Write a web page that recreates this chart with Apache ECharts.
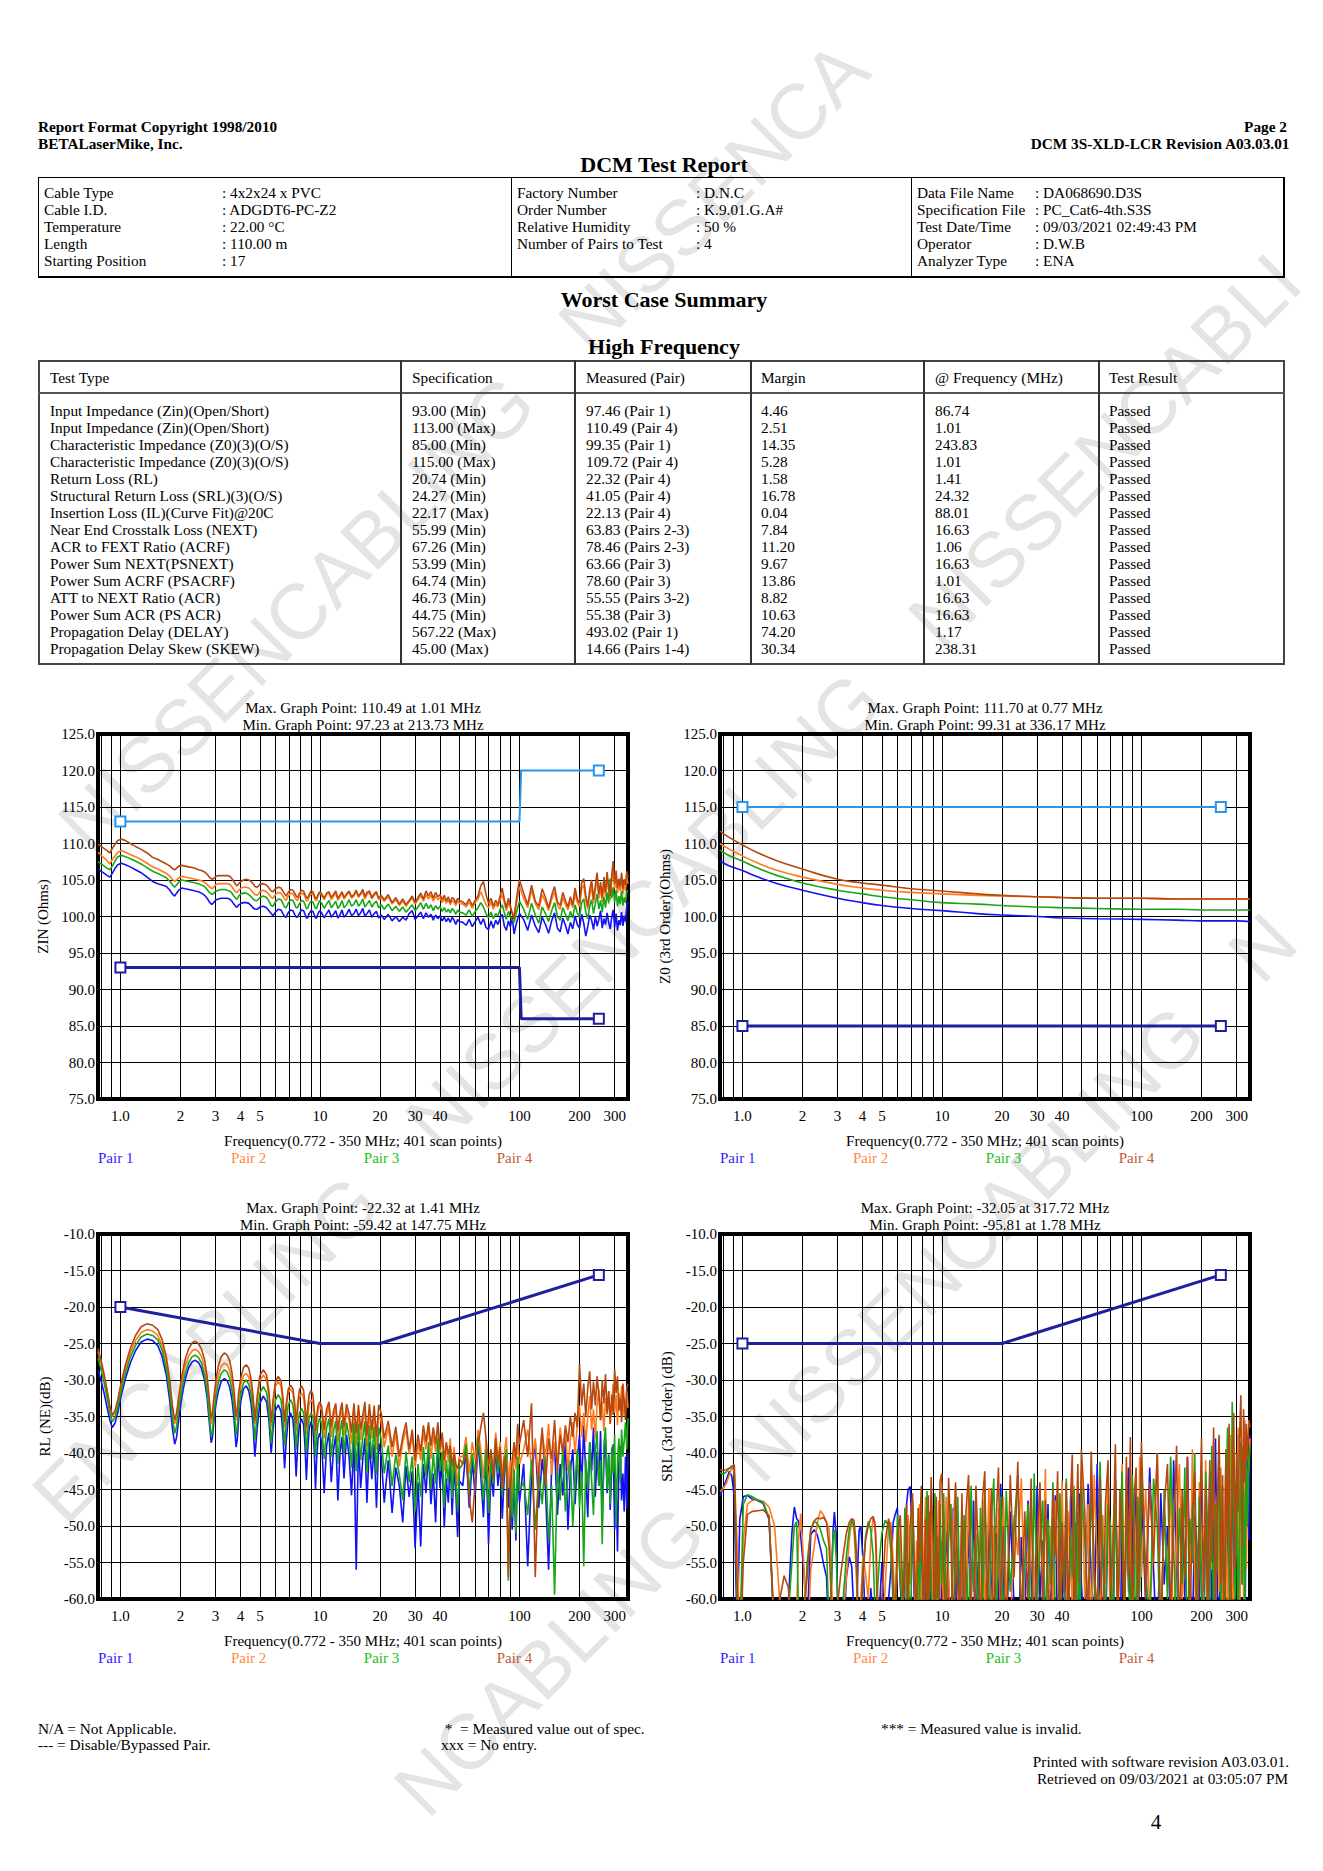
<!DOCTYPE html>
<html>
<head>
<meta charset="utf-8">
<title>DCM Test Report</title>
<script src="https://cdn.jsdelivr.net/npm/echarts@6.0.0/dist/echarts.min.js"></script>
<style>
html,body{margin:0;padding:0;background:#fff;}
body{width:1323px;height:1871px;position:relative;overflow:hidden;font-family:"Liberation Serif","Times New Roman",serif;color:#000;}
.chart{position:absolute;height:490px;z-index:1;}
.wm{position:absolute;z-index:0;font-family:"Liberation Sans",Arial,sans-serif;font-size:78px;line-height:78px;color:#e4e4e4;white-space:nowrap;transform-origin:0 100%;transform:rotate(-45deg);}
</style>
</head>
<body>
<div id="c1" class="chart" style="left:0px;top:690px;width:640px"></div>
<div id="c2" class="chart" style="left:631px;top:690px;width:692px"></div>
<div id="c3" class="chart" style="left:0px;top:1190px;width:640px"></div>
<div id="c4" class="chart" style="left:631px;top:1190px;width:692px"></div>
<script>
// ---------------- shared frequency grid (MHz) ----------------
const FREQ = [
 0.772, 0.80, 0.83, 0.86, 0.885, 0.91,
 0.94, 0.97, 1.01, 1.06, 1.12, 1.19, 1.27, 1.36, 1.45, 1.54, 1.62, 1.70, 1.77, 1.82, 1.87,
 1.91, 1.96, 2.03, 2.11, 2.2, 2.29, 2.37, 2.46, 2.55, 2.64, 2.72, 2.79, 2.85,
 2.89, 2.95, 3.02, 3.1, 3.2, 3.32, 3.43, 3.53, 3.62, 3.7, 3.76, 3.8,
 3.85, 3.92, 4.02, 4.14, 4.27, 4.4, 4.52, 4.62, 4.68, 4.72,
 4.85, 5.0, 5.2, 5.4, 5.55, 5.7,
 5.82, 5.98, 6.18, 6.38, 6.52, 6.65,
 6.77, 6.93, 7.12, 7.32, 7.47, 7.6,
 7.72, 7.88, 8.08, 8.28, 8.42, 8.55,
 8.67, 8.83, 9.02, 9.22, 9.37, 9.5,
 9.62, 9.78, 9.98,
 10.2, 10.5, 10.8, 11.1, 11.4, 11.7, 12.0, 12.3, 12.6, 12.9, 13.2, 13.6, 14.0, 14.4, 14.8, 15.2, 15.6, 16.0, 16.4, 16.8, 17.2, 17.7, 18.2, 18.7, 19.2, 19.7,
 20.3, 21, 22, 23, 24, 25, 26, 27, 28, 29, 30, 31, 32, 33, 34, 35, 36, 37, 38, 39, 40, 41, 42, 43, 44, 45, 46, 47, 48, 49, 50,
 52, 54, 56, 58, 60, 62, 64, 66, 68, 70, 72, 74, 76, 78, 80, 82, 84, 86, 88, 90, 92, 94, 96, 98, 100,
 105, 110, 115, 120, 125, 130, 135, 140, 145, 150, 155, 160, 165, 170, 175, 180, 185, 190, 195, 200, 205, 210, 215, 220, 225,
 230, 235, 240, 245, 250, 255, 260, 265, 270, 275, 280, 285, 290, 295, 300, 305, 310, 315, 320, 325, 330, 335, 340, 345, 350
];

// ---------------- ZIN (Ohms) ----------------
const ZIN_P1 = [
 106.5, 106.2, 105.9, 105.6, 105.4, 105.9,
 106.6, 107.1, 107.3, 107.1, 106.8, 106.4, 106.0, 105.4, 104.8, 104.5, 104.3, 104.1, 103.6, 103.1, 102.8,
 103.2, 103.6, 103.9, 103.8, 103.7, 103.6, 103.5, 103.4, 103.2, 102.9, 102.5, 102.0, 101.7,
 101.7, 102.0, 102.3, 102.4, 102.5, 102.5, 102.5, 102.4, 102.1, 101.7, 101.5, 101.3,
 101.3, 101.6, 101.8, 101.9, 101.9, 101.8, 101.5, 101.2, 101.1, 101.0,
 101.0, 101.3, 101.4, 101.2, 100.8, 100.4,
 100.1, 100.6, 101.0, 100.9, 100.4, 100.0,
 99.9, 100.5, 100.9, 100.8, 100.3, 99.9,
 99.9, 100.4, 100.9, 100.8, 100.3, 99.8,
 99.8, 100.4, 100.8, 100.7, 100.2, 99.8,
 99.8, 100.4, 100.8,
 100.5, 99.8, 100.4, 100.9, 99.9, 100.3, 100.8, 99.8, 100.2, 100.9, 99.9, 100.3, 101.0, 100.1, 100.4, 101.0, 100.1, 100.5, 101.1, 100.0, 100.4, 100.9, 99.9, 100.4, 100.7, 99.8,
 100.2, 99.6, 100.3, 99.4, 100.0, 99.3, 99.9, 99.5, 100.4, 100.8, 99.6, 100.1, 100.6, 99.7, 100.5, 99.9, 100.3, 99.5, 100.2, 99.7, 100.1, 99.4, 99.9, 99.3, 99.8, 99.2, 99.9, 99.5, 98.9, 99.6, 99.3,
 99.2, 98.8, 99.6, 98.6, 99.3, 99.9, 98.9, 99.7, 98.5, 98.2, 99.4, 98.4, 99.5, 98.9, 99.8, 100.3, 98.7, 98.1, 99.4, 98.6, 99.9, 97.6, 98.8, 99.7, 100.4,
 99.6, 98.1, 100.2, 98.7, 97.8, 99.9, 98.9, 97.7, 99.4, 100.5, 98.4, 97.9, 99.8, 98.8, 97.6, 99.2, 98.3, 100.1, 98.9, 98.4, 100.3, 99.1, 97.3, 98.6, 100.2,
 99.5, 98.2, 100.0, 98.7, 99.6, 100.8, 98.4, 99.7, 98.9, 100.5, 99.2, 98.3, 99.9, 100.9, 98.5, 100.4, 98.1, 99.5, 98.8, 100.6, 98.7, 100.1, 99.3, 101.4, 102.0
];
const ZIN_P2 = [
 108.8, 108.4, 108.0, 107.6, 107.2, 107.8,
 108.3, 108.8, 109.0, 108.8, 108.5, 108.2, 107.8, 107.3, 106.8, 106.5, 106.2, 105.9, 105.5, 105.1, 104.8,
 105.0, 105.3, 105.5, 105.4, 105.3, 105.2, 105.1, 105.0, 104.9, 104.7, 104.4, 104.1, 103.9,
 103.8, 104.1, 104.4, 104.5, 104.5, 104.5, 104.5, 104.4, 104.1, 103.7, 103.5, 103.3,
 103.3, 103.6, 103.9, 104.0, 104.0, 103.9, 103.6, 103.3, 103.1, 103.0,
 102.9, 103.4, 103.6, 103.4, 103.0, 102.6,
 102.5, 103.0, 103.3, 103.2, 102.8, 102.4,
 102.2, 102.8, 103.2, 103.1, 102.7, 102.3,
 102.2, 102.7, 103.2, 103.1, 102.7, 102.2,
 102.1, 102.7, 103.1, 103.1, 102.6, 102.2,
 102.2, 102.8, 103.2,
 102.9, 102.3, 103.0, 103.2, 102.3, 102.8, 103.2, 102.2, 102.7, 103.3, 102.4, 102.9, 103.3, 102.5, 102.8, 103.4, 102.6, 103.0, 103.4, 102.4, 103.0, 103.3, 102.4, 102.9, 103.2, 102.3,
 102.6, 102.1, 102.7, 101.7, 102.3, 101.5, 102.1, 101.4, 102.0, 102.5, 101.7, 102.3, 102.9, 102.1, 103.0, 102.4, 102.9, 102.1, 102.8, 102.3, 102.6, 101.9, 102.5, 101.8, 102.3, 101.6, 102.2, 102.0, 101.5, 102.1, 101.8,
 101.7, 101.3, 102.0, 101.1, 101.9, 102.4, 103.4, 102.5, 101.6, 101.2, 102.0, 101.0, 101.7, 101.3, 102.3, 103.0, 101.8, 100.8, 101.9, 101.2, 100.6, 100.2, 101.4, 102.7, 104.1,
 102.5, 101.2, 103.6, 101.8, 100.9, 103.0, 102.0, 100.8, 102.3, 103.4, 101.5, 101.0, 102.6, 101.7, 100.9, 102.1, 101.2, 103.1, 101.9, 101.3, 103.8, 104.3, 102.2, 101.0, 102.9,
 104.1, 101.8, 103.5, 105.2, 102.5, 103.9, 102.0, 104.6, 102.7, 105.4, 103.3, 102.2, 104.8, 106.2, 103.8, 105.5, 103.2, 104.5, 103.5, 105.3, 103.1, 104.4, 103.6, 105.4, 104.5
];
const ZIN_P3 = [
 107.5, 107.2, 106.9, 106.6, 106.4, 106.9,
 107.6, 108.2, 108.4, 108.2, 107.9, 107.6, 107.2, 106.7, 106.2, 105.9, 105.6, 105.3, 104.8, 104.4, 104.0,
 104.3, 104.7, 105.0, 104.9, 104.8, 104.7, 104.6, 104.5, 104.3, 104.1, 103.7, 103.3, 103.1,
 103.0, 103.3, 103.5, 103.6, 103.7, 103.7, 103.6, 103.5, 103.2, 102.8, 102.6, 102.4,
 102.4, 102.8, 103.1, 103.2, 103.2, 103.0, 102.7, 102.4, 102.3, 102.2,
 102.2, 102.6, 102.8, 102.6, 102.1, 101.5,
 101.4, 102.0, 102.4, 102.3, 101.8, 101.3,
 101.2, 101.8, 102.3, 102.2, 101.7, 101.2,
 101.2, 101.7, 102.2, 102.1, 101.6, 101.1,
 101.1, 101.7, 102.1, 102.0, 101.5, 101.1,
 101.1, 101.7, 102.2,
 101.8, 101.1, 101.7, 102.2, 101.2, 101.6, 102.1, 101.1, 101.5, 102.2, 101.2, 101.6, 102.3, 101.4, 101.7, 102.3, 101.4, 101.8, 102.4, 101.3, 101.7, 102.2, 101.3, 101.8, 102.1, 101.2,
 101.6, 101.0, 101.7, 100.8, 101.4, 100.7, 101.3, 100.6, 101.1, 101.6, 100.8, 101.3, 101.9, 101.0, 101.8, 101.1, 101.6, 100.8, 101.5, 101.0, 101.4, 100.7, 101.2, 100.6, 101.0, 100.5, 101.1, 100.8, 100.3, 100.9, 100.6,
 100.5, 100.2, 100.9, 100.0, 100.7, 101.2, 101.9, 101.3, 100.4, 99.8, 100.6, 99.7, 100.4, 100.1, 101.0, 101.6, 100.5, 99.6, 100.7, 100.0, 99.5, 99.2, 100.3, 101.2, 102.1,
 101.0, 99.6, 101.8, 100.2, 99.1, 101.3, 100.4, 99.3, 100.8, 101.9, 100.0, 99.5, 101.2, 100.3, 99.4, 100.7, 99.8, 101.6, 100.5, 99.9, 101.9, 102.4, 100.6, 99.7, 101.4,
 102.3, 100.4, 101.7, 103.1, 101.0, 102.2, 100.6, 102.7, 101.2, 103.3, 101.8, 105.2, 102.5, 104.0, 101.9, 103.6, 101.4, 102.8, 101.7, 103.5, 101.5, 102.6, 101.9, 103.4, 103.6
];
const ZIN_P4 = [
 109.9, 109.6, 109.3, 109.0, 108.7, 109.3,
 109.9, 110.4, 110.6, 110.4, 110.0, 109.6, 109.2, 108.7, 108.1, 107.8, 107.5, 107.2, 106.9, 106.6, 106.4,
 106.6, 106.9, 107.0, 106.9, 106.8, 106.7, 106.6, 106.4, 106.3, 106.1, 105.8, 105.4, 105.2,
 105.1, 105.3, 105.5, 105.6, 105.6, 105.6, 105.6, 105.5, 105.2, 104.8, 104.5, 104.3,
 104.2, 104.5, 104.8, 105.0, 105.1, 105.0, 104.8, 104.5, 104.3, 104.1,
 104.0, 104.4, 104.5, 104.3, 103.9, 103.5,
 103.4, 103.8, 104.0, 103.9, 103.5, 103.1,
 102.8, 103.3, 103.7, 103.6, 103.2, 102.8,
 102.6, 103.1, 103.6, 103.5, 103.0, 102.6,
 102.5, 103.0, 103.5, 103.4, 102.9, 102.5,
 102.5, 103.0, 103.4,
 103.1, 102.5, 103.2, 103.4, 102.6, 103.0, 103.5, 102.5, 102.9, 103.4, 102.6, 103.1, 103.5, 102.7, 103.0, 103.6, 102.8, 103.2, 103.7, 102.7, 103.3, 103.5, 102.6, 103.1, 103.4, 102.5,
 102.9, 102.3, 103.0, 101.9, 102.6, 101.7, 102.4, 101.6, 102.2, 102.8, 101.9, 102.6, 103.2, 102.4, 103.5, 102.8, 103.4, 102.5, 103.3, 102.7, 103.0, 102.3, 102.9, 102.1, 102.7, 101.9, 102.6, 102.4, 101.8, 102.5, 102.2,
 102.0, 101.6, 102.4, 101.5, 102.2, 102.8, 104.2, 104.8, 103.0, 101.8, 102.5, 101.4, 102.2, 101.6, 102.8, 103.9, 102.3, 101.2, 102.5, 101.5, 100.4, 99.6, 101.8, 103.6, 105.0,
 103.2, 101.6, 104.3, 102.1, 101.4, 103.8, 102.6, 101.2, 102.9, 104.1, 102.0, 101.5, 103.3, 102.2, 101.3, 102.7, 101.6, 103.9, 102.4, 101.8, 104.6, 105.2, 102.9, 101.4, 103.6,
 105.0, 102.3, 104.2, 106.0, 103.1, 104.7, 102.6, 105.4, 103.3, 106.1, 104.0, 102.8, 105.6, 107.6, 104.5, 106.3, 103.9, 105.2, 104.1, 106.0, 103.8, 105.1, 104.3, 106.2, 105.3
];

// ---------------- Z0 3rd order (Ohms) ----------------
const Z0_FREQ = [0.772, 0.85, 1.0, 1.2, 1.5, 2, 3, 4, 5, 7, 10, 15, 20, 30, 40, 60, 100, 150, 200, 300, 350];
const Z0_P1 = [107.6, 107.0, 106.3, 105.4, 104.5, 103.6, 102.5, 101.9, 101.5, 101.1, 100.8, 100.4, 100.2, 100.0, 99.8, 99.7, 99.6, 99.5, 99.4, 99.4, 99.3];
const Z0_P2 = [110.0, 109.3, 108.3, 107.3, 106.3, 105.4, 104.4, 103.9, 103.6, 103.3, 103.1, 102.9, 102.8, 102.7, 102.6, 102.5, 102.5, 102.4, 102.4, 102.4, 102.4];
const Z0_P3 = [109.1, 108.4, 107.6, 106.6, 105.6, 104.6, 103.6, 103.1, 102.7, 102.3, 101.9, 101.7, 101.5, 101.3, 101.2, 101.1, 101.0, 101.0, 100.9, 100.9, 100.9];
const Z0_P4 = [111.7, 110.9, 109.8, 108.7, 107.6, 106.5, 105.1, 104.6, 104.3, 103.8, 103.5, 103.1, 102.9, 102.7, 102.6, 102.5, 102.5, 102.4, 102.4, 102.4, 102.4];

// ---------------- RL (NE) (dB) ----------------
const RL_P1 = [
 -28.6, -30.1, -31.9, -33.9, -35.5, -36.5,
 -35.9, -34.4, -32.1, -29.8, -27.7, -26.0, -24.8, -24.4, -24.6, -25.3, -26.8, -29.4, -33.0, -36.5, -38.8,
 -37.9, -35.4, -32.4, -29.9, -28.3, -27.5, -27.3, -27.6, -28.4, -30.0, -32.4, -35.8, -38.6,
 -37.9, -35.3, -33.1, -31.5, -30.2, -29.8, -30.1, -31.0, -32.6, -35.0, -37.5, -39.2,
 -38.2, -35.2, -32.8, -31.2, -30.8, -31.5, -33.3, -36.1, -38.8, -40.5,
 -36.5, -33.2, -32.2, -33.0, -35.5, -40.0,
 -36.8, -34.2, -33.4, -34.3, -37.3, -42.1,
 -38.5, -35.4, -34.5, -35.4, -38.4, -43.2,
 -39.4, -36.3, -35.3, -36.1, -39.1, -43.7,
 -39.9, -36.7, -35.7, -36.6, -39.9, -45.0,
 -41.0, -38.0, -37.3,
 -38.5, -45.5, -39.0, -37.2, -44.0, -39.5, -37.6, -46.5, -40.0, -37.8, -43.5, -37.5, -40.5, -45.8, -38.2, -56.0, -38.4, -44.8, -40.8, -38.0, -46.8, -38.5, -43.6, -38.8, -47.5, -38.6,
 -40.5, -46.8, -41.0, -48.2, -42.0, -44.5, -49.5, -41.8, -46.0, -42.5, -53.0, -44.0, -52.8, -41.5, -45.5, -40.0, -47.0, -42.8, -49.5, -39.5, -44.8, -41.2, -50.2, -43.5, -46.8, -40.8, -48.5, -42.0, -45.5, -51.5, -43.8,
 -44.5, -39.5, -47.5, -41.0, -45.8, -38.5, -43.0, -48.8, -40.2, -52.5, -42.5, -46.0, -39.0, -44.5, -41.5, -49.0, -43.0, -40.5, -47.5, -42.0, -50.5, -44.0, -52.0, -41.5, -46.8,
 -41.5, -55.5, -43.0, -38.5, -47.5, -40.8, -45.0, -56.0, -42.0, -39.0, -48.5, -41.5, -45.8, -38.0, -50.5, -42.5, -39.5, -47.0, -41.0, -37.5, -44.8, -36.2, -43.0, -48.8, -38.5,
 -42.5, -36.5, -46.0, -39.8, -44.5, -37.0, -49.5, -41.0, -38.0, -45.5, -40.2, -47.8, -42.0, -38.8, -50.5, -43.5, -53.5, -41.5, -39.0, -46.5, -42.8, -48.0, -40.5, -47.5, -40.0
];
const RL_P2 = [
 -26.1, -27.7, -29.7, -31.9, -33.8, -35.0,
 -34.4, -33.0, -30.7, -28.5, -26.3, -24.6, -23.5, -23.1, -23.3, -23.9, -25.3, -27.6, -30.8, -33.9, -36.0,
 -35.2, -33.0, -30.3, -28.1, -26.7, -26.0, -25.8, -26.1, -26.8, -28.2, -30.4, -33.5, -36.0,
 -35.3, -32.9, -30.9, -29.3, -28.1, -27.7, -27.9, -28.7, -30.0, -32.0, -34.1, -35.5,
 -34.7, -32.4, -30.6, -29.4, -29.1, -29.6, -30.9, -32.9, -34.8, -36.0,
 -32.8, -30.1, -29.3, -30.0, -32.3, -36.4,
 -33.4, -30.9, -30.2, -30.8, -33.0, -36.5,
 -34.0, -31.8, -31.2, -31.8, -33.8, -37.0,
 -34.5, -32.4, -31.8, -32.4, -34.4, -37.5,
 -35.2, -33.3, -32.7, -33.2, -35.1, -38.0,
 -35.8, -34.2, -33.5,
 -34.2, -38.0, -34.8, -33.6, -37.8, -35.0, -33.8, -38.5, -35.3, -33.9, -37.6, -34.0, -35.6, -38.8, -34.0, -39.0, -34.2, -38.2, -35.8, -34.0, -39.2, -34.4, -38.0, -34.5, -39.5, -34.6,
 -35.8, -39.2, -36.5, -40.5, -37.2, -41.8, -38.5, -36.8, -40.2, -37.5, -42.0, -38.6, -41.0, -37.2, -39.5, -36.2, -40.8, -37.5, -39.8, -36.5, -40.0, -37.8, -42.5, -38.8, -41.2, -38.0, -43.5, -39.2, -41.8, -44.5, -40.5,
 -40.5, -37.8, -42.8, -38.5, -41.0, -36.8, -39.5, -43.5, -38.2, -45.0, -39.8, -42.0, -37.2, -40.8, -38.5, -43.2, -40.0, -37.8, -44.8, -41.0, -46.0, -39.5, -42.2, -38.0, -41.5,
 -39.5, -36.8, -42.0, -38.0, -44.5, -37.2, -40.5, -36.0, -43.0, -38.5, -41.2, -36.5, -39.8, -37.0, -42.5, -38.0, -35.8, -40.0, -36.2, -33.5, -37.8, -34.5, -38.5, -35.0, -32.2,
 -36.8, -34.0, -38.0, -33.5, -31.2, -35.5, -33.0, -37.0, -32.5, -34.8, -31.5, -36.0, -33.2, -30.5, -34.5, -32.0, -36.2, -31.8, -33.5, -30.8, -35.0, -32.5, -34.2, -31.5, -33.8
];
const RL_P3 = [
 -27.0, -28.6, -30.5, -32.6, -34.5, -35.7,
 -35.1, -33.7, -31.4, -29.1, -26.9, -25.3, -24.1, -23.7, -23.9, -24.5, -26.0, -28.5, -31.9, -35.1, -37.3,
 -36.4, -34.1, -31.3, -29.1, -27.6, -26.8, -26.6, -26.9, -27.7, -29.3, -31.6, -35.0, -37.8,
 -37.1, -34.4, -32.1, -30.3, -29.1, -28.6, -28.9, -29.8, -31.3, -33.5, -35.9, -37.5,
 -36.6, -33.9, -31.8, -30.4, -30.0, -30.6, -32.1, -34.5, -36.7, -38.2,
 -34.7, -31.8, -30.9, -31.7, -34.2, -38.7,
 -35.5, -32.8, -32.0, -32.7, -35.2, -39.0,
 -36.0, -33.5, -32.7, -33.4, -35.8, -39.5,
 -36.8, -34.6, -33.9, -34.5, -36.7, -40.0,
 -37.4, -35.2, -34.5, -35.1, -37.2, -40.5,
 -38.0, -36.0, -35.2,
 -36.0, -40.8, -36.6, -35.3, -40.5, -37.0, -35.6, -41.5, -37.2, -35.5, -40.2, -35.8, -37.8, -42.0, -35.9, -42.5, -36.0, -41.0, -37.8, -35.7, -42.6, -36.2, -40.8, -36.4, -43.0, -36.5,
 -38.2, -42.8, -39.0, -44.5, -40.2, -43.0, -46.5, -39.8, -44.0, -40.5, -48.0, -41.5, -46.0, -39.2, -43.2, -38.5, -45.0, -40.0, -44.2, -38.0, -42.5, -39.8, -47.5, -41.0, -44.0, -39.5, -46.2, -40.8, -43.5, -48.0, -42.2,
 -41.5, -38.8, -45.5, -40.0, -43.0, -37.8, -41.2, -46.5, -39.5, -48.2, -41.0, -44.2, -38.5, -42.8, -40.2, -45.8, -41.8, -39.5, -57.5, -43.5, -48.8, -42.2, -51.0, -40.5, -45.2,
 -44.0, -48.5, -41.0, -50.5, -43.0, -47.0, -40.5, -52.0, -44.5, -59.4, -42.0, -46.5, -39.0, -48.0, -43.2, -41.0, -50.0, -44.0, -39.5, -47.5, -42.5, -55.5, -40.8, -45.0, -38.5,
 -43.8, -48.5, -40.0, -37.0, -44.5, -41.0, -52.5, -38.8, -36.5, -45.0, -40.5, -47.0, -39.2, -42.8, -37.5, -50.0, -41.2, -38.0, -44.0, -36.8, -40.5, -38.2, -35.8, -39.5, -35.2
];
const RL_P4 = [
 -25.7, -27.3, -29.3, -31.6, -33.6, -34.8,
 -34.2, -32.7, -30.3, -27.9, -25.7, -23.9, -22.7, -22.3, -22.5, -23.1, -24.5, -26.9, -30.2, -33.4, -35.5,
 -34.6, -32.3, -29.5, -27.2, -25.7, -24.9, -24.7, -25.0, -25.8, -27.2, -29.5, -32.7, -35.3,
 -34.6, -32.0, -29.7, -28.0, -26.8, -26.3, -26.6, -27.4, -28.9, -31.1, -33.4, -35.0,
 -34.1, -31.6, -29.6, -28.3, -27.9, -28.4, -29.9, -32.1, -34.1, -35.5,
 -32.2, -29.4, -28.6, -29.3, -31.6, -35.8,
 -32.8, -30.3, -29.5, -30.1, -32.3, -35.8,
 -33.4, -31.3, -30.7, -31.2, -33.1, -36.0,
 -33.5, -31.4, -30.8, -31.4, -33.4, -36.5,
 -34.0, -32.0, -31.4, -32.0, -34.0, -37.0,
 -35.0, -33.6, -33.0,
 -33.6, -36.8, -34.0, -33.0, -36.5, -34.2, -33.2, -37.0, -34.4, -33.1, -36.4, -33.3, -34.6, -37.2, -33.2, -37.3, -33.4, -36.8, -34.8, -33.0, -37.6, -33.3, -36.9, -33.5, -37.8, -33.4,
 -34.6, -38.0, -35.6, -39.2, -36.4, -40.5, -37.8, -35.8, -39.5, -36.8, -41.0, -37.5, -39.8, -36.2, -38.5, -35.8, -39.0, -36.5, -38.8, -35.8, -39.5, -37.2, -41.0, -38.5, -40.2, -39.0, -41.8, -40.0, -41.5, -42.2, -40.8,
 -41.5, -40.2, -46.0, -49.5, -44.0, -39.0, -36.5, -34.5, -38.0, -41.8, -39.5, -43.5, -38.0, -41.5, -39.2, -44.8, -40.5, -42.0, -57.0, -45.0, -41.0, -38.5, -40.8, -36.0, -38.8,
 -35.5, -40.5, -33.2, -57.0, -42.0, -36.5, -44.5, -38.0, -40.8, -35.5, -42.5, -37.5, -40.0, -36.2, -38.5, -35.0, -37.8, -34.5, -36.5, -27.8, -33.5, -30.5, -35.0, -31.0, -28.8,
 -34.0, -30.2, -33.5, -29.5, -32.0, -35.5, -30.0, -33.2, -29.2, -34.5, -31.5, -36.0, -32.0, -34.8, -28.5, -31.8, -29.5, -34.2, -32.5, -35.8, -30.5, -33.0, -35.5, -31.0, -30.5
];

// ---------------- SRL 3rd order (dB) ----------------
const SRL_P1 = [
 -45.9, -44.8, -43.7, -42.5, -43.2, -46.0,
 -65.0, -49.1, -46.0, -45.8, -46.3, -46.5, -46.9, -49.1, -66.0, -59.3, -70.0, -60.5, -51.0, -47.4, -49.0,
 -49.3, -51.5, -56.0, -64.0, -51.2, -50.5, -51.2, -53.0, -55.2, -57.0, -66.0, -58.0, -50.5,
 -48.1, -51.0, -64.0, -70.0, -66.0, -57.0, -54.2, -55.5, -62.0, -68.0, -60.0, -54.0,
 -50.5, -50.0, -54.6, -64.0, -68.0, -58.5, -63.0, -66.0, -70.0, -64.0,
 -62.0, -55.0, -66.0, -60.0, -56.0, -49.5,
 -48.5, -47.5, -58.0, -64.0, -55.0, -47.0,
 -45.0, -44.6, -52.0, -63.0, -58.0, -66.0,
 -52.0, -51.5, -64.0, -55.0, -68.0, -57.5,
 -65.0, -56.0, -62.0, -50.5, -66.0, -58.0,
 -64.0, -53.5, -61.0,
 -66.0, -49.5, -58.0, -68.0, -47.5, -62.0, -53.0, -70.0, -48.5, -57.0, -65.0, -50.0, -61.0, -46.5, -64.0, -55.0, -72.0, -49.0, -60.0, -67.0, -47.8, -58.5, -65.0, -51.0, -63.0, -44.2,
 -58.0, -66.0, -48.0, -61.0, -70.0, -51.5, -64.0, -46.5, -57.0, -67.0, -44.5, -60.0, -52.0, -68.0, -47.0, -63.0, -55.0, -45.8, -66.0, -50.5, -59.0, -69.0, -46.0, -62.0, -54.0, -44.0, -65.0, -49.5, -71.0, -45.5, -58.0,
 -66.0, -44.2, -57.0, -63.0, -41.5, -60.0, -50.5, -68.0, -46.0, -55.0, -64.0, -43.5, -59.0, -70.0, -47.5, -61.0, -52.0, -42.0, -66.0, -49.0, -58.0, -45.0, -67.0, -53.0, -44.8,
 -61.0, -42.0, -56.0, -68.0, -45.5, -58.0, -50.0, -64.0, -41.0, -55.0, -70.0, -47.0, -60.0, -40.5, -57.0, -65.0, -48.5, -53.0, -62.0, -44.0, -68.0, -46.5, -58.5, -42.5, -63.0,
 -51.0, -38.0, -59.0, -66.0, -44.5, -55.0, -71.0, -40.0, -57.0, -49.0, -64.0, -38.5, -60.0, -46.0, -53.0, -37.5, -62.0, -43.0, -58.0, -39.5, -67.0, -45.0, -41.0, -52.0, -37.5
];
const SRL_P2 = [
 -45.3, -44.9, -44.2, -43.0, -42.0, -42.5,
 -52.0, -66.0, -52.0, -47.0, -46.5, -46.4, -46.6, -47.4, -50.0, -60.5, -70.0, -80.0, -95.8, -75.0, -62.0,
 -52.0, -48.3, -55.0, -68.0, -56.0, -52.8, -49.6, -47.9, -48.5, -49.5, -50.5, -56.0, -64.0,
 -68.0, -70.0, -66.0, -64.0, -62.0, -57.0, -52.0, -49.2, -50.5, -55.0, -60.0, -63.0,
 -66.0, -60.0, -54.0, -56.5, -60.0, -52.0, -48.8, -49.5, -52.0, -57.0,
 -64.0, -68.0, -58.0, -50.0, -49.5, -55.0,
 -62.0, -56.0, -50.5, -64.0, -66.0, -54.0,
 -48.5, -58.0, -46.5, -61.0, -52.0, -66.0,
 -47.0, -63.0, -55.0, -46.0, -68.0, -51.0,
 -59.0, -45.5, -66.0, -49.0, -57.0, -64.0,
 -46.5, -60.0, -52.0,
 -63.0, -46.0, -57.0, -66.0, -49.5, -44.5, -60.0, -68.0, -47.0, -55.0, -63.0, -45.8, -58.0, -70.0, -48.0, -52.0, -65.0, -46.5, -61.0, -56.0, -44.8, -67.0, -50.0, -59.0, -47.5, -64.0,
 -46.0, -58.0, -66.0, -48.5, -54.0, -43.5, -62.0, -69.0, -47.0, -56.0, -64.0, -45.0, -59.0, -42.2, -67.0, -50.0, -61.0, -46.5, -55.0, -70.0, -43.8, -58.0, -65.0, -48.0, -52.0, -62.0, -44.5, -68.0, -50.5, -57.0, -42.5,
 -60.0, -47.0, -66.0, -43.0, -55.0, -64.0, -48.5, -58.0, -42.0, -69.0, -51.0, -45.5, -62.0, -56.0, -41.5, -65.0, -49.0, -59.0, -44.0, -70.0, -47.5, -54.0, -63.0, -40.5, -57.0,
 -45.0, -62.0, -52.0, -40.0, -66.0, -48.0, -58.0, -43.5, -69.0, -50.5, -41.5, -60.0, -55.0, -46.0, -64.0, -39.5, -57.0, -67.0, -44.0, -52.5, -61.0, -41.0, -70.0, -48.5, -56.0,
 -38.5, -63.0, -46.0, -59.0, -42.0, -65.0, -53.0, -40.5, -68.0, -47.0, -37.5, -58.0, -62.0, -44.0, -54.0, -36.5, -66.0, -49.0, -39.0, -60.0, -35.5, -56.0, -45.0, -41.5, -38.0
];
const SRL_P3 = [
 -42.7, -42.9, -42.6, -42.1, -41.9, -41.8,
 -60.0, -66.0, -47.0, -45.7, -46.0, -46.4, -46.8, -48.8, -66.0, -72.0, -68.0, -62.0, -55.0, -50.0, -49.4,
 -62.0, -70.0, -64.0, -55.0, -50.5, -49.4, -49.6, -50.5, -52.0, -53.0, -64.0, -58.0, -51.0,
 -50.5, -54.0, -62.0, -68.0, -60.0, -54.0, -50.5, -49.2, -49.8, -53.0, -58.0, -64.0,
 -68.0, -62.0, -56.0, -51.5, -49.4, -50.5, -54.0, -62.0, -66.0, -60.0,
 -55.0, -51.0, -49.2, -50.0, -53.5, -61.0,
 -66.0, -48.5, -57.0, -63.0, -47.5, -60.0,
 -55.0, -68.0, -46.6, -58.0, -64.0, -49.0,
 -61.0, -46.0, -66.0, -52.0, -45.2, -63.0,
 -48.0, -57.0, -69.0, -45.5, -60.0, -51.5,
 -66.0, -47.0, -58.0,
 -45.5, -63.0, -52.0, -47.0, -67.0, -55.0, -46.0, -61.0, -70.0, -48.5, -56.0, -65.0, -44.5, -59.0, -51.0, -68.0, -47.5, -62.0, -45.0, -57.0, -66.0, -49.0, -43.5, -64.0, -53.0, -46.0,
 -66.0, -45.2, -59.0, -50.0, -43.0, -64.0, -55.0, -47.0, -69.0, -42.8, -61.0, -52.5, -46.5, -67.0, -49.0, -58.0, -44.0, -63.0, -70.0, -45.5, -54.0, -60.0, -43.5, -66.0, -50.0, -57.0, -45.0, -62.0, -48.0, -68.0, -44.5,
 -52.0, -62.0, -45.0, -58.0, -67.0, -41.2, -55.0, -63.0, -47.0, -50.0, -69.0, -44.0, -60.0, -53.5, -42.5, -66.0, -48.5, -57.0, -64.0, -43.0, -52.0, -70.0, -46.0, -59.0, -41.0,
 -56.0, -64.0, -43.5, -50.0, -68.0, -45.0, -60.0, -40.5, -53.0, -66.0, -47.5, -58.0, -42.0, -70.0, -49.0, -55.0, -40.0, -63.0, -46.0, -59.0, -67.0, -42.5, -51.0, -61.0, -39.0,
 -65.0, -47.0, -56.0, -38.0, -62.0, -44.5, -69.0, -50.0, -36.5, -57.0, -64.0, -33.0, -48.0, -60.0, -40.0, -66.0, -52.0, -38.5, -58.0, -45.0, -62.0, -37.0, -50.0, -42.0, -39.0
];
const SRL_P4 = [
 -42.3, -42.4, -42.3, -42.1, -41.8, -41.6,
 -58.0, -70.0, -55.0, -48.4, -48.0, -47.9, -47.8, -48.6, -65.0, -60.0, -56.8, -58.5, -66.0, -72.0, -68.0,
 -70.0, -66.0, -62.0, -57.0, -50.5, -49.3, -48.9, -49.0, -48.8, -49.5, -53.0, -60.0, -66.0,
 -70.0, -64.0, -60.0, -57.0, -54.0, -51.0, -49.5, -49.0, -49.2, -52.0, -58.0, -64.0,
 -68.0, -63.0, -57.0, -52.0, -50.0, -49.0, -48.7, -50.0, -54.0, -60.0,
 -66.0, -60.0, -52.0, -49.0, -51.0, -58.0,
 -64.0, -52.0, -48.5, -60.0, -56.0, -47.0,
 -62.0, -50.0, -45.5, -58.0, -66.0, -47.5,
 -55.0, -44.5, -63.0, -49.0, -68.0, -45.8,
 -60.0, -43.3, -52.0, -66.0, -46.0, -57.0,
 -64.0, -44.0, -42.8,
 -56.0, -65.0, -43.4, -52.0, -68.0, -44.0, -58.0, -62.0, -45.5, -70.0, -48.0, -43.0, -60.0, -66.0, -44.5, -53.0, -67.0, -46.0, -42.5, -63.0, -55.0, -44.8, -69.0, -49.0, -42.0, -61.0,
 -50.0, -66.0, -43.0, -57.0, -41.2, -64.0, -48.0, -60.0, -43.5, -70.0, -52.0, -44.0, -62.0, -46.5, -58.0, -68.0, -45.0, -54.0, -42.5, -65.0, -49.5, -59.0, -44.0, -67.0, -47.0, -40.2, -63.0, -52.0, -41.5, -58.0, -39.5,
 -48.0, -65.0, -39.8, -56.0, -62.0, -43.5, -70.0, -47.0, -41.0, -59.0, -53.0, -38.8, -66.0, -45.0, -51.0, -64.0, -40.5, -57.0, -37.8, -68.0, -46.0, -42.0, -61.0, -49.0, -38.5,
 -60.0, -44.0, -55.0, -40.0, -66.0, -47.5, -41.5, -62.0, -51.0, -39.0, -68.0, -45.0, -57.0, -40.5, -64.0, -48.0, -42.5, -70.0, -52.0, -38.0, -59.0, -44.5, -65.0, -41.0, -55.0,
 -36.5, -63.0, -47.0, -37.5, -58.0, -43.0, -67.0, -39.5, -52.0, -36.0, -61.0, -45.0, -34.5, -56.0, -40.0, -48.0, -38.0, -32.1, -53.0, -34.0, -44.0, -36.0, -41.0, -35.5, -36.5
];

// ---------------- specification limits ----------------
const ZIN_SPEC_MAX = [[1.0, 113], [100, 113], [102, 120], [250, 120]];
const ZIN_SPEC_MIN = [[1.0, 93], [100, 93], [102, 86], [250, 86]];
const Z0_SPEC_MAX = [[1.0, 115], [250, 115]];
const Z0_SPEC_MIN = [[1.0, 85], [250, 85]];
const RL_SPEC = [[1.0, -20], [10, -25], [20, -25], [250, -15.6]];
const SRL_SPEC = [[1.0, -25], [20, -25], [250, -15.6]];

// ---------------- axis ticks ----------------
const GRID_FREQ = [0.8, 0.9, 1, 2, 3, 4, 5, 6, 7, 8, 9, 10, 20, 30, 40, 50, 60, 70, 80, 90, 100, 200, 300];
const LABEL_FREQ = [1, 2, 3, 4, 5, 10, 20, 30, 40, 100, 200, 300];
const PAIR_NAMES = ['Pair 1', 'Pair 2', 'Pair 3', 'Pair 4'];

// ---------------- report texts ----------------
const INFO = [
 [['Cable Type', ': 4x2x24 x PVC'], ['Cable I.D.', ': ADGDT6-PC-Z2'], ['Temperature', ': 22.00 °C'], ['Length', ': 110.00 m'], ['Starting Position', ': 17']],
 [['Factory Number', ': D.N.C'], ['Order Number', ': K.9.01.G.A#'], ['Relative Humidity', ': 50 %'], ['Number of Pairs to Test', ': 4']],
 [['Data File Name', ': DA068690.D3S'], ['Specification File', ': PC_Cat6-4th.S3S'], ['Test Date/Time', ': 09/03/2021 02:49:43 PM'], ['Operator', ': D.W.B'], ['Analyzer Type', ': ENA']]
];
const SUMMARY_HEAD = ['Test Type', 'Specification', 'Measured (Pair)', 'Margin', '@ Frequency (MHz)', 'Test Result'];
const SUMMARY_ROWS = [
 ['Input Impedance (Zin)(Open/Short)', '93.00 (Min)', '97.46 (Pair 1)', '4.46', '86.74', 'Passed'],
 ['Input Impedance (Zin)(Open/Short)', '113.00 (Max)', '110.49 (Pair 4)', '2.51', '1.01', 'Passed'],
 ['Characteristic Impedance (Z0)(3)(O/S)', '85.00 (Min)', '99.35 (Pair 1)', '14.35', '243.83', 'Passed'],
 ['Characteristic Impedance (Z0)(3)(O/S)', '115.00 (Max)', '109.72 (Pair 4)', '5.28', '1.01', 'Passed'],
 ['Return Loss (RL)', '20.74 (Min)', '22.32 (Pair 4)', '1.58', '1.41', 'Passed'],
 ['Structural Return Loss (SRL)(3)(O/S)', '24.27 (Min)', '41.05 (Pair 4)', '16.78', '24.32', 'Passed'],
 ['Insertion Loss (IL)(Curve Fit)@20C', '22.17 (Max)', '22.13 (Pair 4)', '0.04', '88.01', 'Passed'],
 ['Near End Crosstalk Loss (NEXT)', '55.99 (Min)', '63.83 (Pairs 2-3)', '7.84', '16.63', 'Passed'],
 ['ACR to FEXT Ratio (ACRF)', '67.26 (Min)', '78.46 (Pairs 2-3)', '11.20', '1.06', 'Passed'],
 ['Power Sum NEXT(PSNEXT)', '53.99 (Min)', '63.66 (Pair 3)', '9.67', '16.63', 'Passed'],
 ['Power Sum ACRF (PSACRF)', '64.74 (Min)', '78.60 (Pair 3)', '13.86', '1.01', 'Passed'],
 ['ATT to NEXT Ratio (ACR)', '46.73 (Min)', '55.55 (Pairs 3-2)', '8.82', '16.63', 'Passed'],
 ['Power Sum ACR (PS ACR)', '44.75 (Min)', '55.38 (Pair 3)', '10.63', '16.63', 'Passed'],
 ['Propagation Delay (DELAY)', '567.22 (Max)', '493.02 (Pair 1)', '74.20', '1.17', 'Passed'],
 ['Propagation Delay Skew (SKEW)', '45.00 (Max)', '14.66 (Pairs 1-4)', '30.34', '238.31', 'Passed']
];

// ---------------- background watermark (diagonal rows, letter by letter, only letters fully on the page) ----------------
const WATERMARK = 'NISSENCABLING';
const WM_STARTS = [[-400, 1365], [100, 865], [600, 365], [-55, 1665], [447, 1162], [950, 660], [270, 1995], [770, 1495], [1270, 995]];
(function drawWatermark() {
  const px = 78, c45 = Math.SQRT1_2;
  const ctx = document.createElement('canvas').getContext('2d');
  ctx.font = px + 'px "Liberation Sans", Arial, sans-serif';
  WM_STARTS.forEach(([x0, y0]) => {
    let adv = 0;
    for (const ch of WATERMARK) {
      const w = ctx.measureText(ch).width;
      const ox = x0 + adv * c45, oy = y0 - adv * c45;
      adv += w;
      const fits = ox - 72 >= 0 && ox + w * c45 + 8 <= 1323 && oy - (w + 92) * c45 >= 2 && oy + 12 <= 1871;
      if (!fits) continue;
      const d = document.createElement('div');
      d.className = 'wm';
      d.style.left = ox + 'px';
      d.style.top = (oy - px) + 'px';
      d.textContent = ch;
      document.body.appendChild(d);
    }
  });
})();

// ---------------- page text layout ----------------
const FONT = '"Liberation Serif","Times New Roman",serif';
const FS = 15.3;
function box(css) { const d = document.createElement('div'); d.style.cssText = 'position:absolute;z-index:1;' + css; document.body.appendChild(d); return d; }
function txt(x, cy, s, extra) { const d = box(`left:${x}px;top:${cy - 8.5}px;font-size:${FS}px;line-height:17px;white-space:pre;${extra || ''}`); d.textContent = s; return d; }
function txtR(rx, cy, s, extra) { const d = box(`right:${1323 - rx}px;top:${cy - 8.5}px;font-size:${FS}px;line-height:17px;white-space:pre;text-align:right;${extra || ''}`); d.textContent = s; return d; }
function txtC(cx, cy, s, size, extra) { const d = box(`left:${cx - 300}px;width:600px;top:${cy - size * 0.6}px;font-size:${size}px;line-height:${size * 1.2}px;text-align:center;white-space:pre;${extra || ''}`); d.textContent = s; return d; }

txt(38, 126.6, 'Report Format Copyright 1998/2010', 'font-weight:bold');
txt(38, 143, 'BETALaserMike, Inc.', 'font-weight:bold');
txtR(1287, 126.6, 'Page 2', 'font-weight:bold');
txtR(1289.5, 143, 'DCM 3S-XLD-LCR Revision A03.03.01', 'font-weight:bold');
txtC(664, 165, 'DCM Test Report', 22, 'font-weight:bold');

box('left:38px;top:177px;width:1247px;height:101px;box-sizing:border-box;border-top:1px solid #000;border-left:1px solid #000;border-right:2px solid #000;border-bottom:2px solid #000;');
box('left:511px;top:177px;width:1px;height:101px;background:#000;');
box('left:911px;top:177px;width:1px;height:101px;background:#000;');
const INFO_X = [[44, 222], [517, 696], [917, 1035]];
INFO.forEach((col, c) => col.forEach((row, r) => {
  txt(INFO_X[c][0], 192 + 17 * r, row[0]);
  txt(INFO_X[c][1], 192 + 17 * r, row[1]);
}));

txtC(664, 300, 'Worst Case Summary', 22, 'font-weight:bold');
txtC(664, 347, 'High Frequency', 22, 'font-weight:bold');

box('left:38px;top:360px;width:1247px;height:305px;box-sizing:border-box;border:2px solid #444;');
box('left:38px;top:392px;width:1247px;height:2px;background:#555;');
[400, 574, 750, 923, 1098].forEach(x => box(`left:${x}px;top:360px;width:1.5px;height:305px;background:#333;`));
const COL_X = [50, 412, 586, 761, 935, 1109];
SUMMARY_HEAD.forEach((h, i) => txt(COL_X[i], 377, h));
SUMMARY_ROWS.forEach((row, r) => row.forEach((cell, i) => txt(COL_X[i], 410.7 + 17 * r, cell)));

txt(38, 1728, 'N/A = Not Applicable.');
txt(38, 1744.5, '--- = Disable/Bypassed Pair.');
txt(441, 1728, ' *  = Measured value out of spec.');
txt(441, 1744.5, 'xxx = No entry.');
txt(881, 1728, '*** = Measured value is invalid.');
txtR(1289, 1761, 'Printed with software revision A03.03.01.');
txtR(1288, 1778, 'Retrieved on 09/03/2021 at 03:05:07 PM');
txtC(1156, 1823, '4', 21);

// ---------------- charts ----------------
const PAIR_COLORS = ['#1212f2', '#ff7a1c', '#17a617', '#b5480f'];
const LEGEND_COLORS = ['#3322ff', '#ff8a48', '#22bf22', '#bf5a3c'];
const SPEC_HI = '#2a95ea', SPEC_LO = '#1f1f9e';

function pairSeries(freq, vals, i, smooth) {
  return {
    name: PAIR_NAMES[i], type: 'line', data: freq.map((f, k) => [f, vals[k]]),
    symbol: 'none', showSymbol: false, smooth: !!smooth, clip: true,
    lineStyle: { color: PAIR_COLORS[i], width: 1.6 }, itemStyle: { color: PAIR_COLORS[i] }, z: 3
  };
}
function specSeries(pts, color, width) {
  return {
    name: 'spec', type: 'line', showSymbol: true, showAllSymbol: true, symbol: 'emptyRect', symbolSize: 10,
    data: pts.map((p, k) => ({ value: p, symbol: (k === 0 || k === pts.length - 1) ? 'emptyRect' : 'none' })),
    lineStyle: { color, width }, itemStyle: { color, borderWidth: 2 }, z: 5, clip: true
  };
}
const TXT = { fontFamily: FONT, fontSize: 15, color: '#000' };

function makeChart(id, cfg) {
  const chart = echarts.init(document.getElementById(id), null, { renderer: 'svg' });
  const gl = cfg.gridLeft;
  chart.setOption({
    animation: false,
    backgroundColor: 'transparent',
    title: {
      text: cfg.title, left: gl + 265, top: 9, padding: 0, textAlign: 'center',
      textStyle: { fontFamily: FONT, fontSize: 15, fontWeight: 'normal', color: '#000', lineHeight: 17 }
    },
    legend: {
      left: gl - 5, top: 460, padding: 0, icon: 'none', itemWidth: 0, itemHeight: 15, itemGap: 92.5,
      selectedMode: false, textStyle: { fontFamily: FONT, fontSize: 15 },
      data: PAIR_NAMES.map((n, i) => ({ name: n, textStyle: { color: LEGEND_COLORS[i] } }))
    },
    grid: { left: gl, top: 44, width: 530, height: 365, show: true, borderColor: '#000', borderWidth: 4, backgroundColor: 'transparent', containLabel: false, outerBoundsMode: 'none' },
    xAxis: {
      type: 'log', logBase: 10, min: 0.772, max: 350,
      name: 'Frequency(0.772 - 350 MHz; 401 scan points)', nameLocation: 'middle', nameGap: 34, nameTextStyle: TXT,
      axisLine: { show: false }, axisTick: { show: false, customValues: GRID_FREQ },
      splitLine: { show: true, lineStyle: { color: '#000', width: 1 } },
      minorSplitLine: { show: false },
      axisLabel: { customValues: LABEL_FREQ, margin: 9, ...TXT, formatter: v => (Math.abs(v - 1) < 1e-9 ? '1.0' : String(Math.round(v))) }
    },
    yAxis: {
      type: 'value', min: cfg.ymin, max: cfg.ymax, interval: 5,
      name: cfg.yname, nameLocation: 'middle', nameGap: 43, nameTextStyle: TXT,
      axisLine: { show: false }, axisTick: { show: false },
      splitLine: { show: true, lineStyle: { color: '#000', width: 1 } },
      axisLabel: { margin: 3, ...TXT, formatter: v => v.toFixed(1) }
    },
    series: cfg.series
  });
}

makeChart('c1', {
  gridLeft: 98, ymin: 75, ymax: 125, yname: 'ZIN (Ohms)',
  title: 'Max. Graph Point: 110.49 at 1.01 MHz\nMin. Graph Point: 97.23 at 213.73 MHz',
  series: [pairSeries(FREQ, ZIN_P1, 0), pairSeries(FREQ, ZIN_P2, 1), pairSeries(FREQ, ZIN_P3, 2), pairSeries(FREQ, ZIN_P4, 3),
           specSeries(ZIN_SPEC_MAX, SPEC_HI, 2), specSeries(ZIN_SPEC_MIN, SPEC_LO, 3)]
});
makeChart('c2', {
  gridLeft: 89, ymin: 75, ymax: 125, yname: 'Z0 (3rd Order)(Ohms)',
  title: 'Max. Graph Point: 111.70 at 0.77 MHz\nMin. Graph Point: 99.31 at 336.17 MHz',
  series: [pairSeries(Z0_FREQ, Z0_P1, 0, true), pairSeries(Z0_FREQ, Z0_P2, 1, true), pairSeries(Z0_FREQ, Z0_P3, 2, true), pairSeries(Z0_FREQ, Z0_P4, 3, true),
           specSeries(Z0_SPEC_MAX, SPEC_HI, 2), specSeries(Z0_SPEC_MIN, SPEC_LO, 3)]
});
makeChart('c3', {
  gridLeft: 98, ymin: -60, ymax: -10, yname: 'RL (NE)(dB)',
  title: 'Max. Graph Point: -22.32 at 1.41 MHz\nMin. Graph Point: -59.42 at 147.75 MHz',
  series: [pairSeries(FREQ, RL_P1, 0), pairSeries(FREQ, RL_P2, 1), pairSeries(FREQ, RL_P3, 2), pairSeries(FREQ, RL_P4, 3),
           specSeries(RL_SPEC, SPEC_LO, 3)]
});
makeChart('c4', {
  gridLeft: 89, ymin: -60, ymax: -10, yname: 'SRL (3rd Order) (dB)',
  title: 'Max. Graph Point: -32.05 at 317.72 MHz\nMin. Graph Point: -95.81 at 1.78 MHz',
  series: [pairSeries(FREQ, SRL_P1, 0), pairSeries(FREQ, SRL_P2, 1), pairSeries(FREQ, SRL_P3, 2), pairSeries(FREQ, SRL_P4, 3),
           specSeries(SRL_SPEC, SPEC_LO, 3)]
});
</script>
</body>
</html>
